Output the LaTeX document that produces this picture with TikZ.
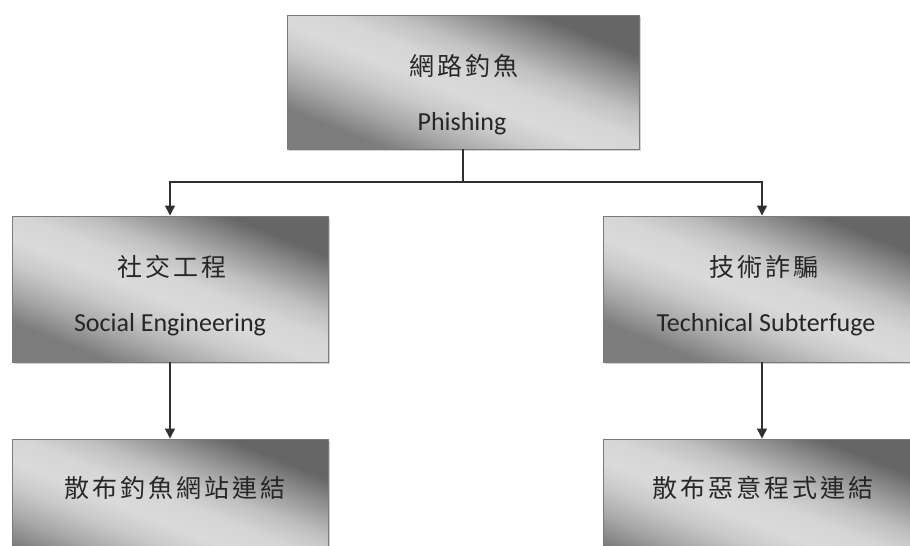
\documentclass[tikz,border=0pt]{standalone}
\usepackage{fontspec}
\setmainfont{Carlito}
\newfontfamily\cjk[LetterSpace=12]{Noto Sans CJK TC}
\usetikzlibrary{arrows.meta,shadows}
\definecolor{boxdark}{HTML}{666666}
\definecolor{boxlight}{HTML}{DADADA}
\definecolor{boxlow}{HTML}{7C7C7C}
\definecolor{boxedge}{HTML}{7A7A7A}
\definecolor{inkc}{HTML}{262626}
\definecolor{linec}{HTML}{303030}
\pgfdeclareverticalshading{silverband}{100bp}{%
  color(0bp)=(boxlow); color(27bp)=(boxlow); color(34bp)=(boxlight!45!boxlow);
  color(41bp)=(boxlight!82!boxlow); color(47bp)=(boxlight); color(53bp)=(boxlight!96!boxdark);
  color(59bp)=(boxlight!78!boxdark); color(66bp)=(boxlight!40!boxdark);
  color(73bp)=(boxdark); color(100bp)=(boxdark)}
\begin{document}
\begin{tikzpicture}[x=1pt,y=1pt,
  box/.style={rectangle, draw=boxedge, line width=0.9pt, inner sep=0pt,
    shading=silverband, shading angle=-22,
    drop shadow={shadow xshift=1.5pt, shadow yshift=-1.5pt, opacity=0.35}},
  cjkt/.style={inner sep=0pt, text=inkc, font=\cjk\fontsize{25}{28}\selectfont},
  ent/.style={inner sep=0pt, text=inkc, font=\fontsize{26}{30}\selectfont, anchor=base},
  conn/.style={draw=linec, line width=1.3pt},
  arr/.style={conn, -{Triangle[width=10pt,length=10pt]}}]
\useasboundingbox (0,0) rectangle (910,-546);
\clip (0,0) rectangle (910,-546);
% boxes
\node[box, minimum width=352pt, minimum height=134pt] (top) at (463,-82) {};
\node[box, minimum width=316pt, minimum height=146pt] (left) at (170,-289) {};
\node[box, minimum width=318pt, minimum height=146pt] (right) at (762,-289) {};
\node[box, minimum width=316pt, minimum height=146pt] (bl) at (170,-512) {};
\node[box, minimum width=318pt, minimum height=146pt] (br) at (762,-512) {};
% texts
\node[cjkt] (t0) at (464,-66) {網路釣魚};
\node[ent] (e0) at (462,-130) {Phishing};
\node[cjkt] (t1) at (172,-267) {社交工程};
\node[ent] (e1) at (170,-331) {Social Engineering};
\node[cjkt] (t2) at (764,-267) {技術詐騙};
\node[ent] (e2) at (766,-331) {Technical Subterfuge};
\node[cjkt] (t3) at (175,-488) {散布釣魚網站連結};
\node[cjkt] (t4) at (763,-488) {散布惡意程式連結};
% connectors
\coordinate (split) at (463,-182);
\draw[conn] (top.south) -- (split);
\draw[arr] (split) -| (left.north);
\draw[arr] (split) -| (right.north);
\draw[arr] (left.south) -- (bl.north);
\draw[arr] (right.south) -- (br.north);
\end{tikzpicture}
\end{document}
